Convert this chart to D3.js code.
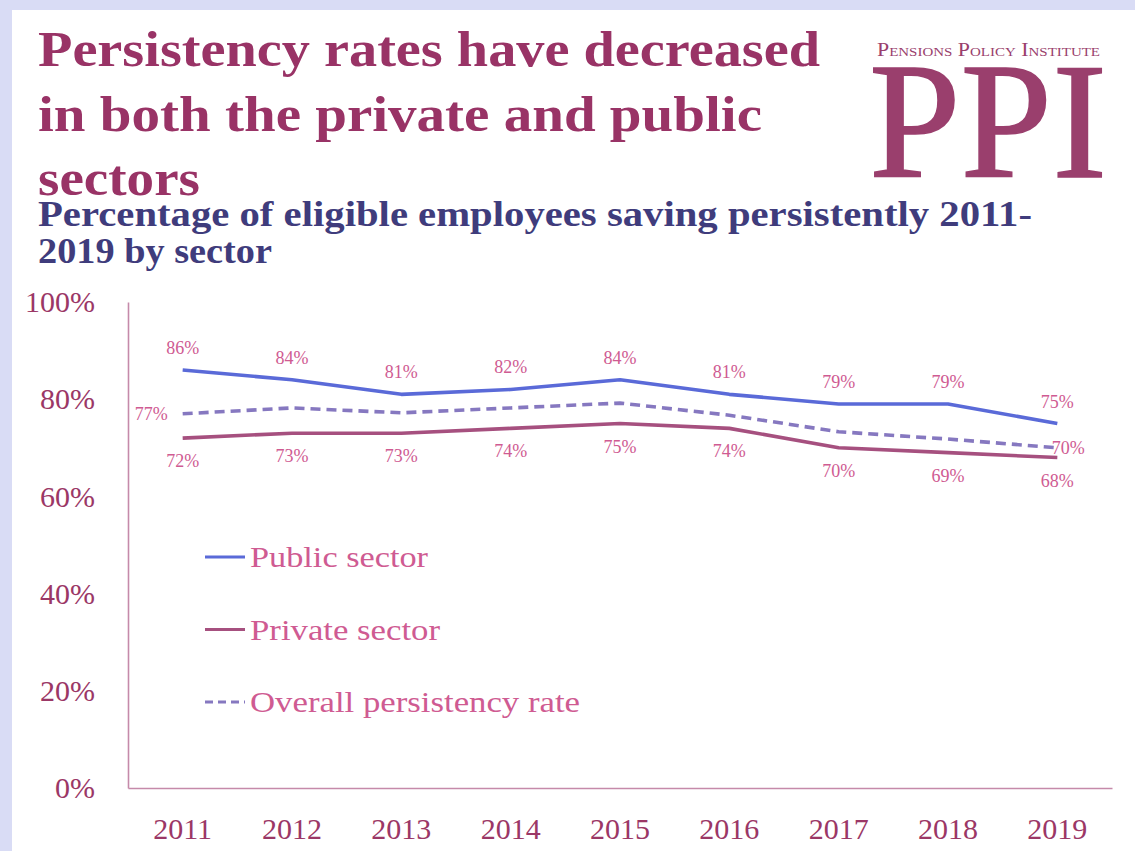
<!DOCTYPE html>
<html>
<head>
<meta charset="utf-8">
<script src="https://cdn.jsdelivr.net/npm/d3@7"></script>
<style>
  html, body { margin: 0; padding: 0; background: #d9dcf5; }
  svg { display: block; }
</style>
</head>
<body>
<svg id="chart" width="1135" height="851"></svg>
<script>
// Persistency rates by sector, 2011-2019 (per cent)
const years = ["2011", "2012", "2013", "2014", "2015", "2016", "2017", "2018", "2019"];
const publicSector = [86, 84, 81, 82, 84, 81, 79, 79, 75];
const privateSector = [72, 73, 73, 74, 75, 74, 70, 69, 68];
const overallRate = [77, 78.2, 77.2, 78.2, 79.2, 76.7, 73.3, 71.8, 70];
const overallLabelled = ["2011", "2019"];
const yTicks = [0, 20, 40, 60, 80, 100];
const legendNames = ["Public sector", "Private sector", "Overall persistency rate"];

const titleLines = ["Persistency rates have decreased", "in both the private and public", "sectors"];
const subtitleLines = ["Percentage of eligible employees saving persistently 2011-", "2019 by sector"];

const serif = "'Liberation Serif', 'Times New Roman', serif";
const col = {
  title: "#993366",
  subtitle: "#3f3c7c",
  tick: "#9b3766",
  label: "#cf5b92",
  axis: "#c58aaa",
  pub: "#5a6ad8",
  priv: "#a6507f",
  overall: "#8678c0",
  logo: "#9a3f6d"
};

const svg = d3.select("#chart");

// slide panel
svg.append("rect").attr("x", 12).attr("y", 10).attr("width", 1123).attr("height", 841).attr("fill", "#ffffff");

// headline
const titleWidths = [782, 724, 162];
svg.append("g").selectAll("text").data(titleLines).join("text")
  .attr("x", 38).attr("y", (d, i) => 66 + i * 64.5)
  .attr("font-family", serif).attr("font-weight", "bold").attr("font-size", 50)
  .attr("fill", col.title)
  .attr("textLength", (d, i) => titleWidths[i]).attr("lengthAdjust", "spacingAndGlyphs")
  .text(d => d);

// chart subtitle
const subWidths = [994, 234];
svg.append("g").selectAll("text").data(subtitleLines).join("text")
  .attr("x", 38).attr("y", (d, i) => 226 + i * 37)
  .attr("font-family", serif).attr("font-weight", "bold").attr("font-size", 35)
  .attr("fill", col.subtitle)
  .attr("textLength", (d, i) => subWidths[i]).attr("lengthAdjust", "spacingAndGlyphs")
  .text(d => d);

// PPI logo
const logo = svg.append("g").attr("fill", col.logo).attr("font-family", serif);
logo.append("text").attr("x", 877).attr("y", 56).attr("font-size", 19)
  .style("font-variant", "small-caps")
  .attr("textLength", 223).attr("lengthAdjust", "spacingAndGlyphs")
  .text("Pensions Policy Institute");
logo.append("text").attr("x", 869).attr("y", 177).attr("font-size", 165)
  .attr("stroke", col.logo).attr("stroke-width", 1.5)
  .attr("textLength", 238).attr("lengthAdjust", "spacingAndGlyphs").text("PPI");

// scales
const x = d3.scaleBand().domain(years).range([128, 1112]);
const cx = d => x(d) + x.bandwidth() / 2;
const y = d3.scaleLinear().domain([0, 100]).range([788, 302]);

// axes
const yAxis = svg.append("g").attr("transform", "translate(128,0)")
  .call(d3.axisLeft(y).tickValues(yTicks).tickSize(0).tickSizeOuter(0).tickPadding(33).tickFormat(d => d + "%"));
const xAxis = svg.append("g").attr("transform", "translate(0,788)")
  .call(d3.axisBottom(x).tickSize(0).tickSizeOuter(0).tickPadding(30));
[yAxis, xAxis].forEach(g => {
  g.select(".domain").attr("stroke", col.axis).attr("stroke-width", 1.6);
  g.selectAll("text").attr("font-family", serif).attr("font-size", 30).attr("fill", col.tick);
});

// series
const series = [
  { name: legendNames[0], values: publicSector, color: col.pub, dash: null, labelDy: -22, labels: years },
  { name: legendNames[1], values: privateSector, color: col.priv, dash: null, labelDy: 23, labels: years },
  { name: legendNames[2], values: overallRate, color: col.overall, dash: "10,6", labelDy: 0, labels: overallLabelled }
];

const line = d3.line().x((d, i) => cx(years[i])).y(d => y(d));

const drawOrder = [2, 1, 0];
drawOrder.forEach(k => {
  const s = series[k];
  svg.append("path").datum(s.values)
    .attr("d", line).attr("fill", "none")
    .attr("stroke", s.color).attr("stroke-width", 3.6)
    .attr("stroke-linejoin", "round")
    .attr("stroke-dasharray", s.dash);
});

// data labels
series.forEach((s, k) => {
  const pts = years.map((yr, i) => ({ yr, v: s.values[i], i })).filter(p => s.labels.includes(p.yr));
  svg.append("g").selectAll("text").data(pts).join("text")
    .attr("x", p => {
      if (k !== 2) return cx(p.yr);
      return p.i === 0 ? cx(p.yr) - 15 : cx(p.yr) + 11;
    })
    .attr("y", p => y(p.v) + s.labelDy)
    .attr("text-anchor", p => (k === 2 && p.i === 0) ? "end" : "middle")
    .attr("dominant-baseline", "central")
    .attr("font-family", serif).attr("font-size", 18).attr("fill", col.label)
    .text(p => Math.round(p.v) + "%");
});

// legend
const legend = svg.append("g").attr("transform", "translate(205,557)");
const legendWidths = [178, 190, 330];
series.forEach((s, i) => {
  const g = legend.append("g").attr("transform", `translate(0,${i * 72.5})`);
  g.append("line").attr("x1", 0).attr("x2", 40).attr("y1", 0).attr("y2", 0)
    .attr("stroke", s.color).attr("stroke-width", 3.2)
    .attr("stroke-dasharray", s.dash ? "8,5" : null);
  g.append("text").attr("x", 45).attr("y", 10)
    .attr("font-family", serif).attr("font-size", 30).attr("fill", col.label)
    .attr("textLength", legendWidths[i]).attr("lengthAdjust", "spacingAndGlyphs")
    .text(s.name);
});
</script>
</body>
</html>
